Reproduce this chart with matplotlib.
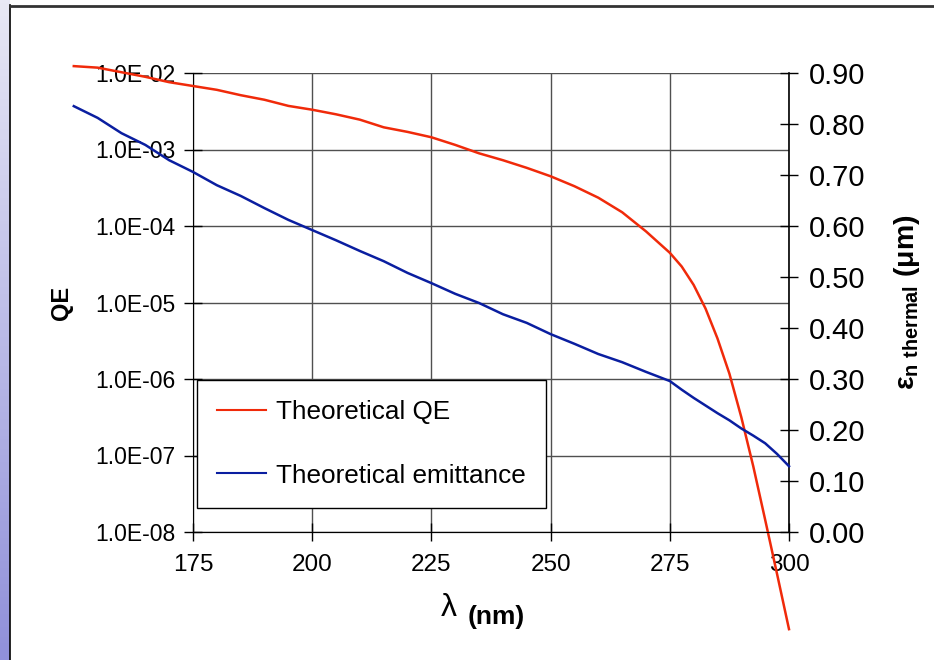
import matplotlib
matplotlib.use('Agg')
import matplotlib.pyplot as plt
import numpy as np
from matplotlib.lines import Line2D

plt.rcParams['font.family'] = 'Liberation Sans'
plt.rcParams['mathtext.fontset'] = 'custom'
plt.rcParams['mathtext.rm'] = 'Liberation Sans'
plt.rcParams['mathtext.bf'] = 'Liberation Sans:bold'

# Data
wavelength = [150, 155, 160, 165, 170, 175, 180, 185, 190, 195, 200, 205, 210, 215,
              220, 225, 230, 235, 240, 245, 250, 255, 260, 265, 270, 275, 277.5, 280,
              282.5, 285, 287.5, 290, 292.5, 295, 297.5, 300]
log_qe = [-1.91, -1.93, -1.99, -2.05, -2.12, -2.17, -2.22, -2.29, -2.35, -2.43, -2.48,
          -2.54, -2.61, -2.71, -2.77, -2.84, -2.94, -3.05, -3.14, -3.24, -3.35, -3.48,
          -3.63, -3.82, -4.07, -4.35, -4.53, -4.77, -5.08, -5.47, -5.93, -6.50, -7.14,
          -7.84, -8.55, -9.27]
emittance = [0.835, 0.812, 0.782, 0.759, 0.729, 0.706, 0.680, 0.659, 0.635, 0.612,
             0.592, 0.572, 0.551, 0.531, 0.508, 0.488, 0.467, 0.449, 0.427, 0.410,
             0.388, 0.369, 0.349, 0.333, 0.314, 0.296, 0.279, 0.263, 0.248, 0.233,
             0.219, 0.203, 0.189, 0.174, 0.153, 0.129]
qe = [10 ** v for v in log_qe]

x_ticks = [175, 200, 225, 250, 275, 300]
qe_ticks = [1e-2, 1e-3, 1e-4, 1e-5, 1e-6, 1e-7, 1e-8]
qe_labels = ['1.0E-02', '1.0E-03', '1.0E-04', '1.0E-05', '1.0E-06', '1.0E-07', '1.0E-08']
em_ticks = [0.0, 0.1, 0.2, 0.3, 0.4, 0.5, 0.6, 0.7, 0.8, 0.9]

red = '#f02a0a'
blue = '#0a1ea0'

W, H = 934, 660
fig = plt.figure(figsize=(W / 100, H / 100), dpi=100)

# slide background strip and frame
grad = np.linspace(0, 1, 200).reshape(-1, 1)
strip = fig.add_axes([0, 0, 10 / W, 1])
strip.imshow(grad, aspect='auto', cmap=matplotlib.colors.LinearSegmentedColormap.from_list(
    'lav', ['#e8e8f5', '#9090da']), extent=[0, 1, 0, 1], origin='upper')
strip.axis('off')
fig.add_artist(Line2D([10 / W, 10 / W], [0, 1 - 5 / H], color='black', lw=1.2))
fig.add_artist(Line2D([10 / W, 1], [1 - 5.5 / H, 1 - 5.5 / H], color='#333333', lw=2))

ax = fig.add_axes([193 / W, 1 - 532 / H, (789 - 193) / W, (532 - 73) / H])
ax.semilogy(wavelength, qe, color=red, lw=1.8, clip_on=False, zorder=5)
ax.set_xlim(175, 300)
ax.set_ylim(1e-8, 1e-2)
ax.set_xticks(x_ticks)
ax.set_xticklabels([str(t) for t in x_ticks], fontsize=17.5)
ax.set_yticks(qe_ticks)
ax.set_yticklabels(qe_labels, fontsize=16.5)
ax.yaxis.set_minor_locator(matplotlib.ticker.NullLocator())
ax.grid(True, which='major', color='#505050', lw=1)
ax.tick_params(direction='inout', length=13, width=1, pad=6)
ax.tick_params(axis='x', pad=9)
ax.spines['top'].set_visible(False)
ax.spines['right'].set_visible(False)
ax.set_ylabel('QE', fontsize=17, fontweight='bold')
ax.yaxis.set_label_coords(-0.201, 0.5)

ax2 = ax.twinx()
ax2.plot(wavelength, emittance, color=blue, lw=1.8, clip_on=False, zorder=5)
ax2.set_ylim(0, 0.9)
ax2.set_yticks(em_ticks)
ax2.set_yticklabels(['%.2f' % t for t in em_ticks], fontsize=21)
ax2.tick_params(direction='inout', length=13, width=1, pad=8)
ax2.spines['top'].set_visible(False)
ax2.spines['left'].set_visible(False)
ax2.spines['right'].set_linewidth(1.2)
ax2.set_ylabel(r'ε$_{\mathbf{n\ thermal}}$ $\mathbf{(μm)}$', fontsize=20.5, fontweight='bold')
ax2.yaxis.set_label_coords(1.172, 0.5)

# x axis label
fig.text(449 / W, 1 - 608 / H, 'λ', fontsize=23, ha='center', va='center')
fig.text(468 / W, 1 - 617 / H, '(nm)', fontsize=19, fontweight='bold', ha='left', va='center')

handles = [Line2D([], [], color=red, lw=1.5), Line2D([], [], color=blue, lw=1.5)]
leg = ax2.legend(handles, ['Theoretical QE', 'Theoretical emittance'],
                 loc='lower left', bbox_to_anchor=(4 / 596, 24 / 459), borderaxespad=0,
                 fontsize=18.8, frameon=True, fancybox=False, framealpha=1,
                 edgecolor='black', handlelength=1.85, handletextpad=0.4,
                 labelspacing=1.5, borderpad=0.78)
leg.get_frame().set_linewidth(1)
leg.set_zorder(10)

fig.savefig('out.png', dpi=100)
